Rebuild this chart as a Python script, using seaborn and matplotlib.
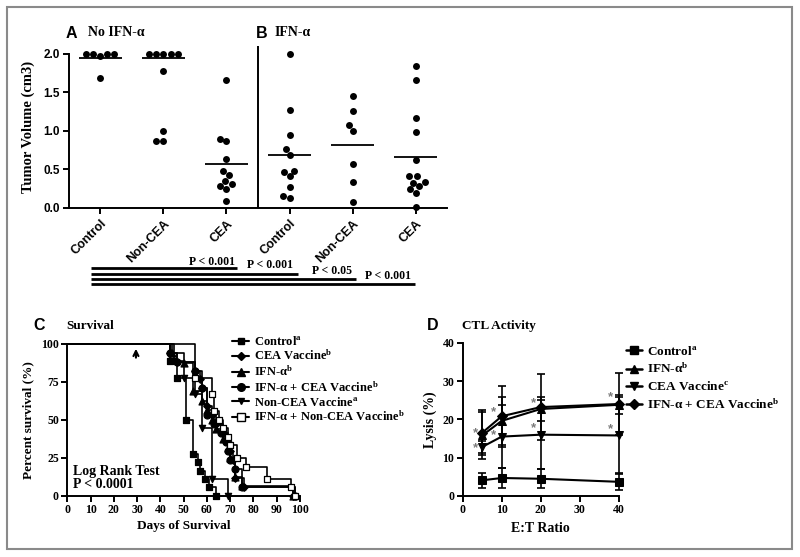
import numpy as np
import pandas as pd
import matplotlib
matplotlib.use("Agg")
import matplotlib.pyplot as plt
import matplotlib.transforms as mtransforms
from matplotlib.lines import Line2D
from matplotlib.patches import Rectangle
import seaborn as sns

# ---------------- data ----------------
group_keys = ["A_Control", "A_NonCEA", "A_CEA", "B_Control", "B_NonCEA", "B_CEA"]
group_labels = ["Control", "Non-CEA", "CEA", "Control", "Non-CEA", "CEA"]
vol_A_control = [2.0, 2.0, 2.0, 2.0, 1.97, 1.69]
vol_A_noncea = [2.0, 2.0, 2.0, 2.0, 2.0, 1.77, 1.00, 0.87, 0.87]
vol_A_cea = [1.66, 0.90, 0.87, 0.64, 0.48, 0.43, 0.35, 0.31, 0.29, 0.25, 0.09]
vol_B_control = [2.0, 1.27, 0.94, 0.77, 0.69, 0.48, 0.47, 0.41, 0.27, 0.16, 0.13]
vol_B_noncea = [1.45, 1.26, 1.08, 1.00, 0.57, 0.34, 0.08]
vol_B_cea = [1.84, 1.66, 1.17, 0.99, 0.62, 0.41, 0.41, 0.34, 0.33, 0.28, 0.25, 0.20, 0.01]
group_means = [1.94, 1.94, 0.57, 0.69, 0.82, 0.66]
vol_ticks = [0.0, 0.5, 1.0, 1.5, 2.0]
p_labels = ["P < 0.001", "P < 0.001", "P < 0.05", "P < 0.001"]
p_end_group = [2, 3, 4, 5]

# survival (days, percent surviving)
surv_names = [r"Control$^{\mathbf{a}}$", r"CEA Vaccine$^{\mathbf{b}}$", r"IFN-α$^{\mathbf{b}}$",
              r"IFN-α + CEA Vaccine$^{\mathbf{b}}$", r"Non-CEA Vaccine$^{\mathbf{a}}$",
              r"IFN-α + Non-CEA Vaccine$^{\mathbf{b}}$"]
surv_control_t = [0, 44, 47, 51, 54, 56, 57, 59, 61, 64]
surv_control_s = [100, 88.9, 77.8, 50.0, 27.8, 22.2, 16.7, 11.1, 5.6, 0]
surv_cea_t = [0, 44, 47, 55, 57, 58, 60, 62, 64, 67, 69, 70, 71, 72, 76, 97]
surv_cea_s = [100, 94.1, 88.2, 82.4, 76.5, 70.6, 58.8, 52.9, 47.1, 41.2, 35.3, 29.4, 23.5, 11.8, 5.9, 0]
surv_ifn_t = [0, 45, 50, 54, 58, 60, 62, 64, 67, 69, 70, 72, 75, 97]
surv_ifn_s = [100, 93.8, 87.5, 68.8, 62.5, 56.3, 50.0, 43.8, 37.5, 31.3, 25.0, 12.5, 6.3, 0]
surv_ifncea_t = [0, 44, 47, 55, 58, 60, 63, 66, 68, 69, 70, 72, 75, 98]
surv_ifncea_s = [100, 94.1, 88.2, 82.4, 70.6, 52.9, 47.1, 41.2, 35.3, 29.4, 23.5, 17.6, 5.9, 0]
surv_noncea_t = [0, 46, 50, 55, 58, 62, 69]
surv_noncea_s = [100, 88.9, 77.8, 66.7, 44.4, 11.1, 0]
surv_ifnnon_t = [0, 55, 62, 63, 65, 67, 69, 70, 73, 77, 86, 96, 98]
surv_ifnnon_s = [100, 77.8, 66.7, 55.6, 50.0, 44.4, 38.9, 33.3, 25.0, 18.8, 11.1, 5.6, 0]

# CTL activity
et_ratio = [5, 10, 20, 40]
ctl_names = [r"Control$^{\mathbf{a}}$", r"IFN-α$^{\mathbf{b}}$", r"CEA Vaccine$^{\mathbf{c}}$",
             r"IFN-α + CEA Vaccine$^{\mathbf{b}}$"]
lysis_control = [4.1, 4.7, 4.5, 3.7]
lysis_control_err = [1.9, 2.5, 2.5, 2.2]
lysis_ifn = [15.8, 19.6, 22.7, 23.8]
lysis_ifn_err = [6.2, 6.3, 3.2, 2.5]
lysis_cea = [12.8, 15.5, 16.0, 15.8]
lysis_cea_err = [1.6, 8.3, 9.0, 10.0]
lysis_ifncea = [16.5, 20.8, 23.2, 24.0]
lysis_ifncea_err = [5.9, 7.9, 8.6, 8.2]
star_x = [3.4, 3.4, 8.0, 8.0, 18.1, 18.1, 38.0, 38.0]
star_y = [16.3, 12.6, 22.0, 16.0, 24.2, 17.7, 25.7, 17.4]

# ---------------- style ----------------
sns.set_theme(style="ticks")
plt.rcParams.update({
    "font.family": ["Liberation Serif", "DejaVu Serif"],
    "font.weight": "bold",
    "axes.labelweight": "bold",
    "mathtext.fontset": "custom",
    "mathtext.rm": "Liberation Serif:bold",
    "mathtext.bf": "Liberation Serif:bold",
    "mathtext.it": "Liberation Serif:italic:bold",
    "axes.linewidth": 1.4,
    "axes.edgecolor": "black",
    "xtick.color": "black", "ytick.color": "black",
    "xtick.major.width": 1.4, "ytick.major.width": 1.4,
    "xtick.major.size": 4, "ytick.major.size": 4,
    "xtick.major.pad": 2, "ytick.major.pad": 2,
    "text.color": "black", "axes.labelcolor": "black",
})
SANS = ["Liberation Sans", "DejaVu Sans"]
SERIF = ["Liberation Serif", "DejaVu Serif"]

W, H = 800, 557
fig = plt.figure(figsize=(8, 5.57), dpi=100)
fig.patch.set_facecolor("white")


def fx(px):
    return px / W


def fy(py):
    return 1 - py / H


# ---------------- panel A / B ----------------
axAB = fig.add_axes([fx(68.5), fy(208), (447.5 - 68.5) / W, (208 - 46) / H])
vols = [vol_A_control, vol_A_noncea, vol_A_cea, vol_B_control, vol_B_noncea, vol_B_cea]
df_vol = pd.DataFrame({
    "group": np.concatenate([[k] * len(v) for k, v in zip(group_keys, vols)]),
    "volume": np.concatenate(vols),
})
sns.swarmplot(data=df_vol, x="group", y="volume", order=group_keys, color="black",
              size=5, ax=axAB)
for c in axAB.collections:
    c.set_clip_on(False)
for i, m in enumerate(group_means):
    axAB.plot([i - 0.34, i + 0.34], [m, m], color="black", lw=1.3, solid_capstyle="butt")
axAB.set_xlim(-0.5, 5.5)
axAB.set_ylim(0, 2.1)
axAB.axvline(2.5, color="black", lw=1.4)
axAB.spines["top"].set_visible(False)
axAB.spines["right"].set_visible(False)
axAB.spines["left"].set_bounds(0, 2.0)
axAB.set_yticks(vol_ticks)
axAB.set_yticklabels([f"{v:.1f}" for v in vol_ticks], family=SANS, fontsize=8.5, fontweight="bold")
axAB.set_xticks(range(len(group_labels)))
axAB.set_xticklabels(group_labels, rotation=45, ha="right", rotation_mode="anchor",
                     family=SANS, fontsize=9, fontweight="bold")
axAB.tick_params(axis="x", pad=3)
axAB.set_xlabel("")
axAB.set_ylabel("Tumor Volume (cm3)", family=SERIF, fontsize=10.5, fontweight="bold", labelpad=6)

trans = mtransforms.blended_transform_factory(axAB.transData, axAB.transAxes)
bracket_start = -0.14
bracket_end_offset = [0.17, 0.13, 0.05, -0.02]
bracket_y = [-0.372, -0.406, -0.438, -0.471]
for g, off, yb in zip(p_end_group, bracket_end_offset, bracket_y):
    axAB.plot([bracket_start, g + off], [yb, yb], transform=trans, color="black", lw=2.0,
              clip_on=False, solid_capstyle="butt")
p_text_pos = [(2.13, -0.333, "right"), (2.32, -0.352, "left"), (3.35, -0.389, "left"),
              (4.19, -0.42, "left")]
for (xt, yt, ha), lab in zip(p_text_pos, p_labels):
    axAB.text(xt, yt, lab, transform=trans, ha=ha, va="center", fontsize=8.5,
              fontweight="bold", family=SERIF, clip_on=False)

fig.text(fx(66), fy(33), "A", family=SANS, fontsize=11.5, fontweight="bold", va="center")
fig.text(fx(88), fy(33), "No IFN-α", family=SERIF, fontsize=10, fontweight="bold", va="center")
fig.text(fx(256), fy(33), "B", family=SANS, fontsize=11.5, fontweight="bold", va="center")
fig.text(fx(275), fy(33), "IFN-α", family=SERIF, fontsize=10, fontweight="bold", va="center")

# ---------------- panel C ----------------
axC = fig.add_axes([fx(67.3), fy(496), (300 - 67.3) / W, (496 - 343.7) / H])
surv_series = [
    (surv_control_t, surv_control_s, "s", "black", 4.5),
    (surv_cea_t, surv_cea_s, "D", "black", 3.8),
    (surv_ifn_t, surv_ifn_s, "^", "black", 5),
    (surv_ifncea_t, surv_ifncea_s, "o", "black", 5),
    (surv_noncea_t, surv_noncea_s, "v", "black", 4.5),
    (surv_ifnnon_t, surv_ifnnon_s, "s", "white", 5),
]
handles_C = []
for (t, s, mk, fc, ms), name in zip(surv_series, surv_names):
    sns.lineplot(x=t, y=s, drawstyle="steps-post", color="black", lw=1.2, ax=axC,
                 estimator=None, sort=False, clip_on=False)
    sns.scatterplot(x=t[1:], y=s[1:], marker=mk, color=fc, edgecolor="black", linewidth=0.9,
                    s=ms ** 2, ax=axC, clip_on=False, zorder=3)
    handles_C.append(Line2D([0], [0], color="black", lw=1.5, marker=mk, markersize=ms + 0.5,
                            markerfacecolor=fc, markeredgecolor="black"))
axC.set_xlim(0, 100)
axC.set_ylim(0, 100)
axC.set_xticks(range(0, 101, 10))
axC.set_yticks([0, 25, 50, 75, 100])
axC.tick_params(labelsize=8.5)
for lab in axC.get_xticklabels() + axC.get_yticklabels():
    lab.set_fontweight("bold")
sns.despine(ax=axC)
axC.set_xlabel("Days of Survival", fontsize=9.5, fontweight="bold", labelpad=3)
axC.set_ylabel("Percent survival (%)", fontsize=9.5, fontweight="bold", labelpad=5)
axC.annotate("", xy=(29.5, 98.5), xytext=(29.5, 89),
             arrowprops=dict(arrowstyle="->", lw=1.5, color="black", mutation_scale=9))
axC.text(2.5, 11.5, "Log Rank Test\nP < 0.0001", fontsize=10, fontweight="bold",
         va="center", ha="left", linespacing=1.0)
legC = axC.legend(handles_C, surv_names, loc="upper left", bbox_to_anchor=(fx(232), fy(335)),
                  bbox_transform=fig.transFigure, frameon=False, fontsize=9,
                  handlelength=1.4, handletextpad=0.4, labelspacing=0.08, borderpad=0,
                  borderaxespad=0)
fig.text(fx(33), fy(326), "C", family=SANS, fontsize=11.5, fontweight="bold", va="center")
fig.text(fx(66), fy(326), "Survival", family=SERIF, fontsize=9.5, fontweight="bold", va="center")

# ---------------- panel D ----------------
axD = fig.add_axes([fx(462.7), fy(496), (618.7 - 462.7) / W, (496 - 342.7) / H])
ctl_series = [
    (lysis_control, lysis_control_err, "s", 5.5),
    (lysis_ifn, lysis_ifn_err, "^", 6),
    (lysis_cea, lysis_cea_err, "v", 6),
    (lysis_ifncea, lysis_ifncea_err, "D", 5),
]
handles_D = []
for y, e, mk, ms in ctl_series:
    sns.lineplot(x=et_ratio, y=y, marker=mk, markersize=ms, color="black", lw=1.5,
                 markeredgecolor="black", ax=axD, estimator=None, sort=False, clip_on=False)
    eb = axD.errorbar(et_ratio, y, yerr=e, fmt="none", ecolor="black", elinewidth=1.2,
                      capsize=3, capthick=1.2)
    for art in eb.lines[1] + eb.lines[2]:
        art.set_clip_on(False)
    handles_D.append(Line2D([0], [0], color="black", lw=1.8, marker=mk, markersize=ms,
                            markerfacecolor="black", markeredgecolor="black"))
for xs, ys in zip(star_x, star_y):
    axD.text(xs, ys, "*", color="#7a7a7a", fontsize=9.5, ha="center", va="center",
             family=SANS)
axD.set_xlim(0, 40)
axD.set_ylim(0, 40)
axD.set_xticks([0, 10, 20, 30, 40])
axD.set_yticks([0, 10, 20, 30, 40])
axD.tick_params(labelsize=8.5)
for lab in axD.get_xticklabels() + axD.get_yticklabels():
    lab.set_fontweight("bold")
sns.despine(ax=axD)
axD.set_xlabel("E:T Ratio", fontsize=10, fontweight="bold", labelpad=4)
axD.set_ylabel("Lysis (%)", fontsize=10, fontweight="bold", labelpad=4)
axD.legend(handles_D, ctl_names, loc="upper left", bbox_to_anchor=(fx(626), fy(345)),
           bbox_transform=fig.transFigure, frameon=False, fontsize=9.5,
           handlelength=1.2, handletextpad=0.4, labelspacing=0.3, borderpad=0,
           borderaxespad=0)
fig.text(fx(427), fy(326), "D", family=SANS, fontsize=11.5, fontweight="bold", va="center")
fig.text(fx(462), fy(326), "CTL Activity", family=SERIF, fontsize=9.5, fontweight="bold",
         va="center")

# frame
fig.add_artist(Rectangle((fx(7), fy(549)), (792 - 7) / W, (549 - 7) / H,
                         transform=fig.transFigure, fill=False, ec="#8a8a8a", lw=1.5))

fig.savefig("out.png", dpi=100)
